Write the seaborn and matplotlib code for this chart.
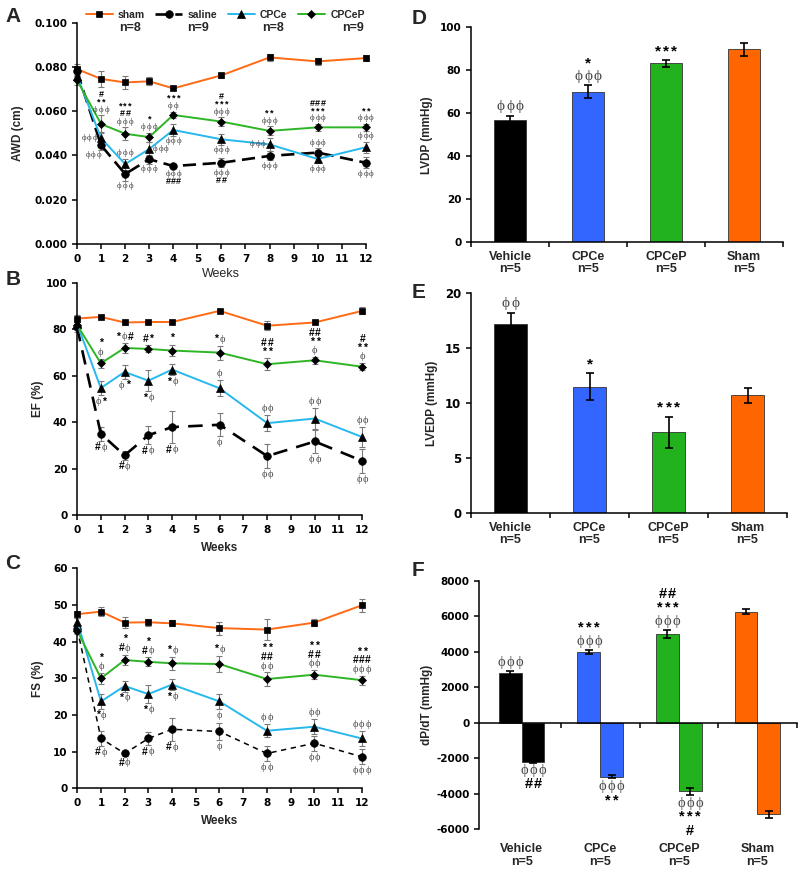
import pandas as pd
import seaborn as sns
import matplotlib.pyplot as plt
import matplotlib.transforms as mtrans
from matplotlib.ticker import FormatStrFormatter

sns.set_style('ticks')
plt.rcParams['font.family'] = ['Liberation Sans', 'DejaVu Sans']
plt.rcParams['font.weight'] = 'bold'
plt.rcParams['axes.labelweight'] = 'bold'
plt.rcParams['axes.edgecolor'] = 'black'
plt.rcParams['axes.linewidth'] = 1.1
plt.rcParams['axes.unicode_minus'] = False

# ---------------- data ----------------
weeks = [0, 1, 2, 3, 4, 6, 8, 10, 12]
line_groups = ['sham', 'saline', 'CPCe', 'CPCeP']
line_n = [8, 9, 8, 9]

awd_sham = [0.079, 0.0746, 0.073, 0.0735, 0.0703, 0.0762, 0.0843, 0.0825, 0.0840]
awd_saline = [0.078, 0.0446, 0.0316, 0.0383, 0.0352, 0.0367, 0.0398, 0.0413, 0.0367]
awd_cpce = [0.076, 0.0478, 0.0361, 0.0429, 0.0515, 0.0473, 0.0450, 0.0384, 0.0437]
awd_cpcep = [0.074, 0.0542, 0.0498, 0.0483, 0.0583, 0.0553, 0.0511, 0.0527, 0.0527]
awd_sham_err = [0.0025, 0.0035, 0.003, 0.0018, 0.0008, 0.001, 0.0015, 0.0017, 0.0013]
awd_saline_err = [0.002, 0.002, 0.003, 0.002, 0.001, 0.002, 0.002, 0.002, 0.0025]
awd_cpce_err = [0.002, 0.003, 0.0025, 0.003, 0.0025, 0.0025, 0.003, 0.002, 0.0025]
awd_cpcep_err = [0.002, 0.004, 0.003, 0.002, 0.0015, 0.002, 0.002, 0.0015, 0.0015]

ef_sham = [84.7, 85.4, 83.0, 83.2, 83.2, 88.0, 81.6, 83.0, 88.0]
ef_saline = [81.0, 35.0, 25.7, 34.4, 37.9, 38.9, 25.4, 31.7, 23.3]
ef_cpce = [82.5, 54.7, 61.7, 57.9, 62.7, 54.6, 39.6, 41.6, 33.6]
ef_cpcep = [82.0, 65.4, 72.0, 71.6, 70.9, 70.0, 65.0, 66.7, 63.9]
ef_sham_err = [1.5, 1, 1, 0.5, 0.5, 1, 2, 0.5, 1.5]
ef_saline_err = [2, 3, 2, 4, 7, 5, 5, 5, 5]
ef_cpce_err = [2, 3, 3, 4.5, 2.5, 3.5, 3.5, 4.5, 4.5]
ef_cpcep_err = [2, 2, 2, 1.5, 2.5, 3, 2.5, 1.5, 1.5]

fs_sham = [47.5, 48.2, 45.2, 45.3, 45.0, 43.7, 43.3, 45.2, 49.9]
fs_saline = [43.5, 13.6, 9.5, 13.6, 16.1, 15.5, 9.5, 12.3, 8.6]
fs_cpce = [45.5, 23.7, 27.9, 25.7, 28.3, 23.7, 15.7, 16.8, 13.6]
fs_cpcep = [43.0, 30.0, 35.0, 34.5, 34.1, 33.9, 29.8, 31.0, 29.5]
fs_sham_err = [1, 1.2, 1.5, 1, 0.8, 1.8, 2.8, 1, 1.8]
fs_saline_err = [1, 2, 0.8, 1.8, 3.2, 2.2, 2, 2, 2]
fs_cpce_err = [1, 2, 1.5, 2.5, 1.5, 2, 1.8, 2, 2]
fs_cpcep_err = [1, 1.5, 1.5, 1.2, 1.8, 2.3, 1.8, 1.2, 1.2]

# significance marks: (group, week, side, lines from nearest outward)
awd_marks = [
    ('CPCeP', 1, 'up', ['ϕϕϕ', '**', '#']), ('CPCe', 1, 'left', ['ϕϕϕ']), ('saline', 1, 'downleft', ['ϕϕϕ']),
    ('CPCeP', 2, 'up', ['ϕϕϕ', '##', '***']), ('CPCe', 2, 'up', ['ϕϕϕ']), ('saline', 2, 'down', ['ϕϕϕ']),
    ('CPCeP', 3, 'up', ['ϕϕϕ', '*']), ('CPCe', 3, 'right', ['ϕϕϕ']), ('saline', 3, 'down', ['ϕϕϕ']),
    ('CPCeP', 4, 'up', ['ϕϕ', '***']), ('CPCe', 4, 'down', ['ϕϕϕ']), ('saline', 4, 'down', ['ϕϕϕ', '###']),
    ('CPCeP', 6, 'up', ['ϕϕϕ', '***', '#']), ('CPCe', 6, 'down', ['ϕϕϕ']), ('saline', 6, 'down', ['ϕϕϕ', '##']),
    ('CPCeP', 8, 'up', ['ϕϕϕ', '**']), ('CPCe', 8, 'left', ['ϕϕϕ']), ('saline', 8, 'down', ['ϕϕϕ']),
    ('CPCeP', 10, 'up', ['ϕϕϕ', '***', '###']), ('saline', 10, 'up', ['ϕϕϕ']), ('CPCe', 10, 'down', ['ϕϕϕ']),
    ('CPCeP', 12, 'up', ['ϕϕϕ', '**']), ('CPCe', 12, 'up', ['ϕϕϕ']), ('saline', 12, 'down', ['ϕϕϕ']),
]
ef_marks = [
    ('CPCeP', 1, 'up', ['ϕ', '*']), ('CPCe', 1, 'down', ['ϕ*']), ('saline', 1, 'down', ['#ϕ']),
    ('CPCeP', 2, 'up', ['*ϕ#']), ('CPCe', 2, 'down', ['ϕ*']), ('saline', 2, 'down', ['#ϕ']),
    ('CPCeP', 3, 'up', ['#*']), ('CPCe', 3, 'down', ['*ϕ']), ('saline', 3, 'down', ['#ϕ']),
    ('CPCeP', 4, 'up', ['*']), ('CPCe', 4, 'down', ['*ϕ']), ('saline', 4, 'down', ['#ϕ']),
    ('CPCeP', 6, 'up', ['*ϕ']), ('CPCe', 6, 'up', ['ϕ']), ('saline', 6, 'down', ['ϕ']),
    ('CPCeP', 8, 'up', ['**', '##']), ('CPCe', 8, 'up', ['ϕϕ']), ('saline', 8, 'down', ['ϕϕ']),
    ('CPCeP', 10, 'up', ['ϕ', '**', '##']), ('CPCe', 10, 'up', ['ϕϕ']), ('saline', 10, 'down', ['ϕϕ']),
    ('CPCeP', 12, 'up', ['ϕ', '**', '#']), ('CPCe', 12, 'up', ['ϕϕ']), ('saline', 12, 'down', ['ϕϕ']),
]
fs_marks = [
    ('CPCeP', 1, 'up', ['ϕ', '*']), ('CPCe', 1, 'down', ['*ϕ']), ('saline', 1, 'down', ['#ϕ']),
    ('CPCeP', 2, 'up', ['#ϕ', '*']), ('CPCe', 2, 'down', ['*ϕ']), ('saline', 2, 'down', ['#ϕ']),
    ('CPCeP', 3, 'up', ['#ϕ', '*']), ('CPCe', 3, 'down', ['*ϕ']), ('saline', 3, 'down', ['#ϕ']),
    ('CPCeP', 4, 'up', ['*ϕ']), ('CPCe', 4, 'down', ['*ϕ']), ('saline', 4, 'down', ['#ϕ']),
    ('CPCeP', 6, 'up', ['*ϕ']), ('CPCe', 6, 'down', ['ϕ']), ('saline', 6, 'down', ['ϕ']),
    ('CPCeP', 8, 'up', ['ϕϕ', '##', '**']), ('CPCe', 8, 'up', ['ϕϕ']), ('saline', 8, 'down', ['ϕϕ']),
    ('CPCeP', 10, 'up', ['ϕϕ', '##', '**']), ('CPCe', 10, 'up', ['ϕϕ']), ('saline', 10, 'down', ['ϕϕ']),
    ('CPCeP', 12, 'up', ['ϕϕϕ', '###', '**']), ('CPCe', 12, 'up', ['ϕϕϕ']), ('saline', 12, 'down', ['ϕϕϕ']),
]

bar_groups = ['Vehicle', 'CPCe', 'CPCeP', 'Sham']
bar_n = [5, 5, 5, 5]
lvdp = [56.8, 70.0, 83.2, 89.7]
lvdp_err = [2.0, 3.0, 1.5, 3.1]
lvedp = [17.2, 11.5, 7.35, 10.7]
lvedp_err = [1.0, 1.2, 1.4, 0.7]
dpdt_max = [2800, 4000, 5020, 6270]
dpdt_max_err = [100, 120, 220, 130]
dpdt_min = [-2200, -3050, -3880, -5170]
dpdt_min_err = [50, 80, 200, 200]

lvdp_marks = [(0, 'up', ['ϕϕϕ']), (1, 'up', ['ϕϕϕ', '*']), (2, 'up', ['***'])]
lvedp_marks = [(0, 'up', ['ϕϕ']), (1, 'up', ['*']), (2, 'up', ['***'])]
dpdt_marks = [
    (0, 'max', ['ϕϕϕ']), (0, 'min', ['ϕϕϕ', '##']),
    (1, 'max', ['ϕϕϕ', '***']), (1, 'min', ['ϕϕϕ', '**']),
    (2, 'max', ['ϕϕϕ', '***', '##']), (2, 'min', ['ϕϕϕ', '***', '#']),
]

# ---------------- styles ----------------
line_colors = {'sham': '#FF6A14', 'saline': 'black', 'CPCe': '#27B8EC', 'CPCeP': '#2EB526'}
line_markers = {'sham': 's', 'saline': 'o', 'CPCe': '^', 'CPCeP': 'D'}
marker_sizes = {'sham': 5, 'saline': 5.5, 'CPCe': 5.5, 'CPCeP': 4.2}
bar_colors = ['black', '#3366FF', '#22B21E', '#FF6600']
CHAR_W = {'*': 0.55, '#': 0.6, 'ϕ': 0.62}
PHI_FONT = ['Liberation Serif', 'DejaVu Serif']


def mark(ax, x, y, text, dx, dy, fs):
    ws = [CHAR_W[c] * fs for c in text]
    cur = dx - sum(ws) / 2
    for c, w in zip(text, ws):
        if c == 'ϕ':
            kw = dict(family=PHI_FONT, fontweight='normal', color='#474747')
        else:
            kw = dict(family=['Liberation Sans', 'DejaVu Sans'], fontweight='bold', color='black')
        ax.annotate(c, (x, y), xytext=(cur + w / 2, dy), textcoords='offset points',
                    ha='center', va='center', fontsize=fs, annotation_clip=False, **kw)
        cur += w


def stack(ax, x, y, err, side, lines, fs, pad, step):
    for i, s in enumerate(lines):
        if side == 'up':
            mark(ax, x, y + err, s, 0, pad + i * step, fs)
        elif side == 'down':
            mark(ax, x, y - err, s, 0, -(pad + i * step), fs)
        elif side == 'downleft':
            mark(ax, x, y - err, s, -5.5, -(pad + i * step), fs)
        elif side == 'left':
            mark(ax, x, y, s, -8.5, 0, fs)
        else:
            mark(ax, x, y, s, 8.5, 0, fs)


def base_style(ax, fs=7.5):
    sns.despine(ax=ax)
    ax.tick_params(direction='out', length=3.5, width=1.1, labelsize=fs,
                   labelfontfamily='DejaVu Sans', color='black', labelcolor='black')


def line_panel(ax, vals, errs, dash, dash_lw, marks, mfs):
    for g in line_groups:
        ax.errorbar(weeks, vals[g], yerr=errs[g], fmt='none', ecolor='#7a7a7a',
                    elinewidth=0.8, capsize=2, capthick=0.8, zorder=2, clip_on=False)
    for g in line_groups:
        saline = g == 'saline'
        sns.lineplot(x=weeks, y=vals[g], ax=ax, color=line_colors[g],
                     linestyle=dash if saline else '-', linewidth=dash_lw if saline else 1.4,
                     marker=line_markers[g], markersize=marker_sizes[g],
                     markerfacecolor='black', markeredgecolor='black', markeredgewidth=0.5,
                     label=g, clip_on=False, zorder=3, errorbar=None)
    for g, w, side, lines in marks:
        i = weeks.index(w)
        stack(ax, w, vals[g][i], errs[g][i], side, lines, mfs, mfs * 0.62, mfs * 0.85)
    ax.set_xlim(0, 12)
    ax.set_xticks(range(13))
    base_style(ax)


fig = plt.figure(figsize=(8, 8.76), dpi=100)

# ---- A ----
axA = fig.add_axes([0.0963, 0.7215, 0.3609, 0.2526])
line_panel(axA,
           {'sham': awd_sham, 'saline': awd_saline, 'CPCe': awd_cpce, 'CPCeP': awd_cpcep},
           {'sham': awd_sham_err, 'saline': awd_saline_err, 'CPCe': awd_cpce_err, 'CPCeP': awd_cpcep_err},
           (0, (5, 2.5)), 1.9, awd_marks, 6.5)
axA.set_ylim(0, 0.1)
axA.set_yticks([0, 0.02, 0.04, 0.06, 0.08, 0.1])
axA.yaxis.set_major_formatter(FormatStrFormatter('%.3f'))
axA.set_ylabel('AWD (cm)', fontsize=8.5)
axA.yaxis.set_label_coords(-0.185, 0.5)
axA.set_xlabel('Weeks', fontsize=9, fontweight='normal', labelpad=3)
h, l = axA.get_legend_handles_labels()
axA.legend(h, l, loc='center', bbox_to_anchor=(0.513, 1.035), ncol=4, frameon=False,
           fontsize=7.5, handlelength=2.6, handletextpad=0.5, columnspacing=1.0,
           borderaxespad=0, numpoints=1)
for xf, n in zip([0.184, 0.419, 0.679, 0.956], line_n):
    axA.text(xf, 0.976, f'n={n}', transform=axA.transAxes, ha='center', va='center', fontsize=9)

# ---- B ----
axB = fig.add_axes([0.0963, 0.4121, 0.3566, 0.2648])
line_panel(axB,
           {'sham': ef_sham, 'saline': ef_saline, 'CPCe': ef_cpce, 'CPCeP': ef_cpcep},
           {'sham': ef_sham_err, 'saline': ef_saline_err, 'CPCe': ef_cpce_err, 'CPCeP': ef_cpcep_err},
           (0, (5.5, 3.5)), 1.9, ef_marks, 7.5)
axB.set_ylim(0, 100)
axB.set_yticks(range(0, 101, 20))
axB.set_ylabel('EF (%)', fontsize=8.5)
axB.yaxis.set_label_coords(-0.116, 0.5)
axB.set_xlabel('Weeks', fontsize=8.5, labelpad=5)
if axB.get_legend():
    axB.get_legend().remove()

# ---- C ----
axC = fig.add_axes([0.0966, 0.1001, 0.3555, 0.2511])
line_panel(axC,
           {'sham': fs_sham, 'saline': fs_saline, 'CPCe': fs_cpce, 'CPCeP': fs_cpcep},
           {'sham': fs_sham_err, 'saline': fs_saline_err, 'CPCe': fs_cpce_err, 'CPCeP': fs_cpcep_err},
           (0, (3.5, 3)), 1.1, fs_marks, 7.5)
axC.set_ylim(0, 60)
axC.set_yticks(range(0, 61, 10))
axC.set_ylabel('FS (%)', fontsize=8.5)
axC.yaxis.set_label_coords(-0.116, 0.5)
axC.set_xlabel('Weeks', fontsize=8.5, labelpad=5)
if axC.get_legend():
    axC.get_legend().remove()

cat_labels = [f'{g}\nn={n}' for g, n in zip(bar_groups, bar_n)]


def bar_panel(ax, vals, errs, marks, ylim, step, ylabel, lab_x):
    df = pd.DataFrame({'group': bar_groups, 'value': vals})
    sns.barplot(data=df, x='group', y='value', hue='group', palette=bar_colors, order=bar_groups,
                hue_order=bar_groups, width=0.42, errorbar=None, legend=False, ax=ax,
                edgecolor='#333333', linewidth=0.6, dodge=False, saturation=1)
    ax.errorbar(range(4), vals, yerr=errs, fmt='none', ecolor='black', elinewidth=1.2,
                capsize=3, capthick=1.2, zorder=3)
    for i, side, lines in marks:
        stack(ax, i, vals[i], errs[i], side, lines, 11, 6.5, 9.2)
    ax.set_xlim(-0.5, 3.5)
    ax.set_ylim(*ylim)
    ax.set_yticks(range(ylim[0], ylim[1] + 1, step))
    ax.set_xticks([-0.5, 0.5, 1.5, 2.5, 3.5])
    ax.set_xticklabels([])
    ax.set_xticks(range(4), minor=True)
    ax.set_xticklabels(cat_labels, minor=True, fontsize=9, linespacing=1.0)
    base_style(ax)
    ax.tick_params(axis='x', which='minor', length=0, pad=6, labelfontfamily='Liberation Sans')
    ax.set_xlabel('')
    ax.set_ylabel(ylabel, fontsize=8.5)
    ax.yaxis.set_label_coords(lab_x, 0.5)


# ---- D ----
axD = fig.add_axes([0.5888, 0.7234, 0.39, 0.2454])
bar_panel(axD, lvdp, lvdp_err, lvdp_marks, (0, 100), 20, 'LVDP (mmHg)', -0.122)

# ---- E ----
axE = fig.add_axes([0.5888, 0.414, 0.395, 0.2515])
bar_panel(axE, lvedp, lvedp_err, lvedp_marks, (0, 20), 5, 'LVEDP (mmHg)', -0.104)
axE.tick_params(axis='y', labelsize=8.5)

# ---- F ----
axF = fig.add_axes([0.5991, 0.0537, 0.3968, 0.2831])
dfF = pd.DataFrame({'group': bar_groups * 2,
                    'phase': ['max'] * 4 + ['min'] * 4,
                    'value': dpdt_max + dpdt_min})
sns.barplot(data=dfF, x='group', y='value', hue='phase', order=bar_groups, hue_order=['max', 'min'],
            dodge=True, width=0.58, errorbar=None, legend=False, ax=axF,
            edgecolor='#333333', linewidth=0.6, saturation=1)
vals_F = {'max': (dpdt_max, dpdt_max_err), 'min': (dpdt_min, dpdt_min_err)}
xs_F = {}
for phase, cont in zip(['max', 'min'], axF.containers):
    xs = [p.get_x() + p.get_width() / 2 for p in cont]
    xs_F[phase] = xs
    for i, p in enumerate(cont):
        p.set_facecolor(bar_colors[i])
    v, e = vals_F[phase]
    axF.errorbar(xs, v, yerr=e, fmt='none', ecolor='black', elinewidth=1.2,
                 capsize=3, capthick=1.2, zorder=3)
for i, phase, lines in dpdt_marks:
    v, e = vals_F[phase]
    stack(axF, xs_F[phase][i], v[i], e[i], 'up' if phase == 'max' else 'down', lines, 10.5, 6, 9.8)
axF.set_xlim(-0.54, 3.5)
axF.set_ylim(-6000, 8000)
axF.set_yticks(range(-6000, 8001, 2000))
base_style(axF)
axF.spines['bottom'].set_position(('data', 0))
axF.set_xticks([0.5, 1.5, 2.5, 3.5])
axF.set_xticklabels([])
axF.set_xlabel('')
axF.set_ylabel('dP/dT (mmHg)', fontsize=8.5)
axF.yaxis.set_label_coords(-0.146, 0.5)
blend = mtrans.blended_transform_factory(axF.transData, axF.transAxes)
for i, lab in enumerate(cat_labels):
    axF.text(i, -0.058, lab, transform=blend, ha='center', va='top', fontsize=9, linespacing=1.1)

# panel letters
for letter, (px, py) in zip('ABCDEF', [(13.5, 17), (13, 279.5), (13, 563.5),
                                       (419.5, 18.5), (419, 293), (418.5, 570.5)]):
    fig.text(px / 800, 1 - py / 876, letter, fontsize=15, fontweight='bold', ha='center', va='center')

fig.savefig('out.png', dpi=100)
